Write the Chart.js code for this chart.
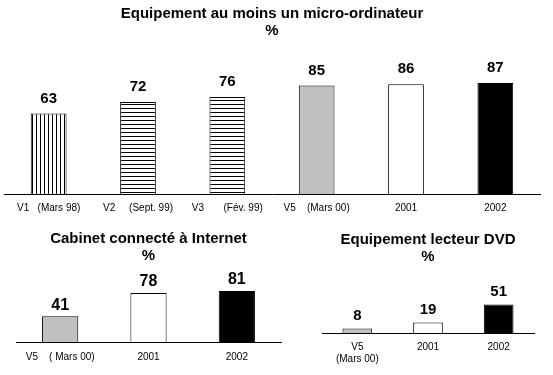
<!DOCTYPE html>
<html>
<head>
<meta charset="utf-8">
<script src="https://cdn.jsdelivr.net/npm/chart.js@4/dist/chart.umd.min.js"></script>
<style>
	body { margin: 0; background: #fff; width: 553px; height: 375px; overflow: hidden; position: relative; }
	canvas { position: absolute; }
</style>
</head>
<body>
<canvas id="topChart" width="553" height="224" style="left:0;top:0"></canvas>
<canvas id="cabChart" width="300" height="159" style="left:0;top:220px"></canvas>
<canvas id="dvdChart" width="253" height="158" style="left:300px;top:220px"></canvas>
<script>
var topLabels = ['V1   (Mars 98)', 'V2     (Sept. 99)', 'V3       (Fév. 99)', 'V5    (Mars 00)', '2001', '2002'];
var topValues = [63, 72, 76, 85, 86, 87];

var cabLabels = ['V5    ( Mars 00)', '2001', '2002'];
var cabValues = [41, 78, 81];

var dvdLabels = [['V5', '(Mars 00)'], '2001', '2002'];
var dvdValues = [8, 19, 51];

var FONT = "'Liberation Sans', Arial, sans-serif";

Chart.defaults.animation = false;
Chart.defaults.color = '#000';
Chart.defaults.font.family = FONT;

// hatch fills drawn on a small tile
function hatch(vertical) {
	var c = document.createElement('canvas');
	c.width = 4;
	c.height = 4;
	var g = c.getContext('2d');
	g.fillStyle = '#fff';
	g.fillRect(0, 0, 4, 4);
	g.fillStyle = '#000';
	if (vertical) {
		g.fillRect(0, 0, 1, 4);
	} else {
		g.fillRect(0, 0, 4, 1);
	}
	return g.createPattern(c, 'repeat');
}

var valueLabels = {
	id : 'valueLabels',
	afterDatasetsDraw : function(chart, args, opts) {
		var ctx = chart.ctx;
		var meta = chart.getDatasetMeta(0);
		var data = chart.data.datasets[0].data;
		ctx.save();
		ctx.font = 'bold ' + opts.size + 'px ' + FONT;
		ctx.fillStyle = '#000';
		ctx.textAlign = 'center';
		ctx.textBaseline = 'middle';
		meta.data.forEach(function(bar, i) {
			ctx.fillText(data[i], bar.x, bar.y - opts.offset);
		});
		ctx.restore();
	}
};

function makeChart(id, labels, values, fills, o) {
	var ctx = document.getElementById(id).getContext('2d');
	return new Chart(ctx, {
		type : 'bar',
		data : {
			labels : labels,
			datasets : [ {
				data : values,
				backgroundColor : fills,
				borderColor : '#000',
				borderWidth : 1,
				categoryPercentage : 1,
				barPercentage : o.bar
			} ]
		},
		options : {
			responsive : false,
			devicePixelRatio : 1,
			layout : { padding : o.pad },
			plugins : {
				legend : { display : false },
				tooltip : { enabled : false },
				title : {
					display : true,
					text : o.title,
					color : '#000',
					font : { size : 15, weight : 'bold', lineHeight : 1.1 },
					padding : o.titlePad
				},
				valueLabels : { size : o.valueSize, offset : o.valueOffset }
			},
			scales : {
				x : {
					grid : { display : false, drawTicks : false },
					border : { display : true, color : '#000', width : 1 },
					ticks : {
						color : '#000',
						font : { size : 10, lineHeight : 1.2 },
						padding : o.tickPad,
						maxRotation : 0,
						autoSkip : false
					}
				},
				y : {
					display : false,
					min : 0,
					max : o.max
				}
			}
		},
		plugins : [ valueLabels ]
	});
}

var stripesV = hatch(true);
var stripesH = hatch(false);

makeChart('topChart', topLabels, topValues,
	[ stripesV, stripesH, stripesH, '#c0c0c0', '#fff', '#000' ], {
		bar : 0.4,
		pad : { left : 4, right : 13, top : 0, bottom : 2 },
		title : [ 'Equipement au moins un micro-ordinateur', '%' ],
		titlePad : { top : 6, bottom : 21 },
		max : 105,
		tickPad : 8,
		valueSize : 15,
		valueOffset : 15
	});

makeChart('cabChart', cabLabels, cabValues, [ '#c0c0c0', '#fff', '#000' ], {
	bar : 0.41,
	pad : { left : 16, right : 19, top : 0, bottom : 7 },
	title : [ 'Cabinet connecté à Internet', '%' ],
	titlePad : { top : 11, bottom : 12 },
	max : 105,
	tickPad : 9,
	valueSize : 16,
	valueOffset : 11
});

makeChart('dvdChart', dvdLabels, dvdValues, [ '#c0c0c0', '#fff', '#000' ], {
	bar : 0.42,
	pad : { left : 22, right : 19, top : 0, bottom : 5 },
	title : [ 'Equipement lecteur DVD', '%' ],
	titlePad : { top : 12, bottom : 15 },
	max : 95,
	tickPad : 8,
	valueSize : 15,
	valueOffset : 13
});
</script>
</body>
</html>
